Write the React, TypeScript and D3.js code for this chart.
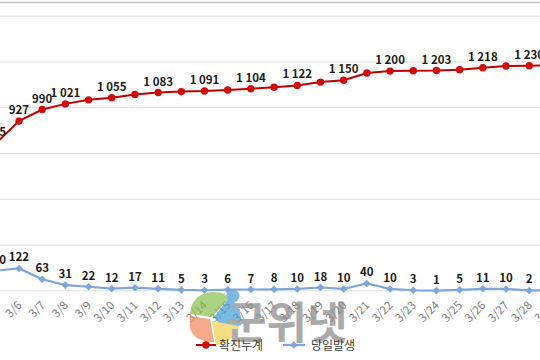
import React from "react";
import * as d3 from "d3";

const dates = ["3/5","3/6","3/7","3/8","3/9","3/10","3/11","3/12","3/13","3/14","3/15","3/16","3/17","3/18","3/19","3/20","3/21","3/22","3/23","3/24","3/25","3/26","3/27","3/28","3/29"];
const cumulative = [805,927,990,1021,1043,1055,1072,1083,1088,1091,1097,1104,1112,1122,1140,1150,1190,1200,1202,1203,1208,1218,1228,1230,1232];
const daily = [110,122,63,31,22,12,17,11,5,3,6,7,8,10,18,10,40,10,3,1,5,11,10,2,2];
const cumLabelDates = ["3/5","3/6","3/7","3/8","3/10","3/12","3/14","3/16","3/18","3/20","3/22","3/24","3/26","3/28"];
const yTicks = [0,250,500,750,1000,1250,1500];
const legendNames = ["확진누계","당일발생"];

const W = 540, H = 360;
const RED = "#C00000";
const BLUE = "#7EA6D8";
const FONT = "'Noto Sans CJK KR', 'Noto Sans', sans-serif";

const fmt = (v: number) => d3.format(",")(v).replace(/,/g, " ");

export default function App() {
  const x = d3.scalePoint<string>().domain(dates).range([-4.2, 552.4]);
  const y = d3.scaleLinear().domain([0, 1500]).range([290.8, 16.2]);
  const lineCum = d3.line<number>().x((_, i) => x(dates[i])!).y(d => y(d));
  const lineDaily = d3.line<number>().x((_, i) => x(dates[i])!).y(d => y(d));
  const diamond = (cx: number, cy: number, r: number) =>
    `M${cx},${cy - r}L${cx + r},${cy}L${cx},${cy + r}L${cx - r},${cy}Z`;

  return (
    <svg width={W} height={H} style={{ position: "absolute", left: 0, top: 0, background: "#fff" }} fontFamily={FONT}>
      <rect x={0} y={0} width={W} height={H} fill="#fff" />
      <line x1={0} x2={W} y1={2.5} y2={2.5} stroke="#C8C8C8" strokeWidth={1.5} />
      {yTicks.map(t => (
        <line key={t} x1={0} x2={W} y1={y(t)} y2={y(t)} stroke="#E0E0E0" strokeWidth={1} />
      ))}
      {/* x labels */}
      {dates.map(d => (
        <text key={d} transform={`translate(${x(d)! + 3.5},${306}) rotate(-45)`} textAnchor="end"
          fontSize={11.5} fill="#7F7F7F">{d}</text>
      ))}
      {/* watermark */}
      <g opacity={0.72}>
        <path d="M190,314 Q191,295 211,292 Q224,291 229,298 L212,317 Z" fill="#8CC152" />
        <path d="M229,298 Q242,306 241,325 L225,331 L214,317 Z" fill="#4A9FD8" />
        <circle cx={233} cy={296} r={6.5} fill="#4A9FD8" />
        <path d="M190,316 L210,319 L214,342 Q194,342 190,328 Z" fill="#F08A5D" />
        <path d="M212,321 L239,326 Q234,343 216,345 Z" fill="#F7D154" />
        <text x={226} y={339} fontSize={44} fontWeight={700} fill="#8A8A8A">군위넷</text>
      </g>
      {/* series */}
      <path d={lineDaily(daily)!} fill="none" stroke={BLUE} strokeWidth={2.2} />
      {daily.map((v, i) => (
        <path key={i} d={diamond(x(dates[i])!, y(v), 3.8)} fill={BLUE} />
      ))}
      <path d={lineCum(cumulative)!} fill="none" stroke={RED} strokeWidth={2} />
      {cumulative.map((v, i) => (
        <circle key={i} cx={x(dates[i])!} cy={y(v)} r={3.7} fill="#D10A0A" />
      ))}
      {/* labels */}
      {cumulative.map((v, i) => cumLabelDates.includes(dates[i]) ? (
        <text key={i} x={x(dates[i])!} y={y(v) - 7} textAnchor="middle" fontSize={11.5} fontWeight={700} fill="#1a1a1a">{fmt(v)}</text>
      ) : null)}
      {daily.map((v, i) => dates[i] === "3/29" ? null : (
        <text key={i} x={x(dates[i])!} y={y(v) - 7} textAnchor="middle" fontSize={11.5} fontWeight={700} fill="#1a1a1a">{fmt(v)}</text>
      ))}
      {/* legend */}
      <line x1={196} x2={216} y1={345} y2={345} stroke={RED} strokeWidth={2} />
      <circle cx={206} cy={345} r={3.7} fill="#D10A0A" />
      <text x={219} y={349.5} fontSize={12} fill="#404040">{legendNames[0]}</text>
      <line x1={283} x2={305} y1={345} y2={345} stroke={BLUE} strokeWidth={2.2} />
      <path d={diamond(294, 345, 3.8)} fill={BLUE} />
      <text x={311} y={349.5} fontSize={12} fill="#404040">{legendNames[1]}</text>
    </svg>
  );
}
